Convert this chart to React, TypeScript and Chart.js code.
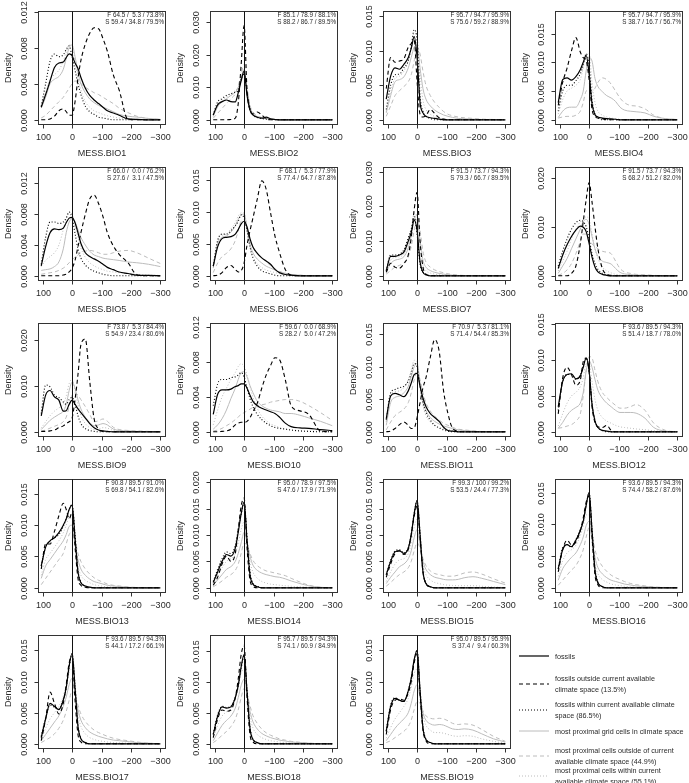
import React, { useEffect, useRef } from "react";
import { Chart, registerables } from "chart.js";

Chart.register(...registerables);

// ---------------- data ----------------
// MESS value grid (x) shared by every density curve
const X_GRID = [105, 90, 75, 60, 45, 30, 20, 10, 0, -10, -20, -30, -45, -60, -75, -90, -105, -120, -140, -160, -190, -220, -260, -300];
const X_TICK_VALUES = [100, 0, -100, -200, -300];
const X_TICK_LABELS = ["100", "0", "\u2212100", "\u2212200", "\u2212300"];

const VARIABLES = [
  "MESS.BIO1", "MESS.BIO2", "MESS.BIO3", "MESS.BIO4", "MESS.BIO5", "MESS.BIO6", "MESS.BIO7",
  "MESS.BIO8", "MESS.BIO9", "MESS.BIO10", "MESS.BIO11", "MESS.BIO12", "MESS.BIO13", "MESS.BIO14",
  "MESS.BIO15", "MESS.BIO16", "MESS.BIO17", "MESS.BIO18", "MESS.BIO19",
];

const F_LABELS = [
  "F 64.5 /  5.3 / 73.8%", "F 85.1 / 78.9 / 88.1%", "F 95.7 / 94.7 / 95.9%", "F 95.7 / 94.7 / 95.9%",
  "F 66.0 /  0.0 / 76.2%", "F 68.1 /  5.3 / 77.9%", "F 91.5 / 73.7 / 94.3%", "F 91.5 / 73.7 / 94.3%",
  "F 73.8 /  5.3 / 84.4%", "F 59.6 /  0.0 / 68.9%", "F 70.9 /  5.3 / 81.1%", "F 93.6 / 89.5 / 94.3%",
  "F 90.8 / 89.5 / 91.0%", "F 95.0 / 78.9 / 97.5%", "F 99.3 / 100 / 99.2%", "F 93.6 / 89.5 / 94.3%",
  "F 93.6 / 89.5 / 94.3%", "F 95.7 / 89.5 / 94.3%", "F 95.0 / 89.5 / 95.9%",
];

const S_LABELS = [
  "S 59.4 / 34.8 / 79.5%", "S 88.2 / 86.7 / 89.5%", "S 75.6 / 59.2 / 88.9%", "S 38.7 / 16.7 / 56.7%",
  "S 27.6 /  3.1 / 47.5%", "S 77.4 / 64.7 / 87.8%", "S 79.3 / 66.7 / 89.5%", "S 68.2 / 51.2 / 82.0%",
  "S 54.9 / 23.4 / 80.6%", "S 28.2 /  5.0 / 47.2%", "S 71.4 / 54.4 / 85.3%", "S 51.4 / 18.7 / 78.0%",
  "S 69.8 / 54.1 / 82.6%", "S 47.6 / 17.9 / 71.9%", "S 53.5 / 24.4 / 77.3%", "S 74.4 / 58.2 / 87.6%",
  "S 44.1 / 17.2 / 66.1%", "S 74.1 / 60.9 / 84.9%", "S 37.4 /  9.4 / 60.3%",
];

// y limit of each panel and tick step (density x 0.001)
const Y_MAX = [11.6, 32.2, 15.1, 18.2, 13.6, 16.3, 30.1, 21.3, 22.8, 12.0, 16.1, 14.6, 16.7, 19.8, 19.8, 16.5, 16.8, 17.0, 16.8];
const Y_STEP = [4, 10, 5, 5, 4, 5, 10, 10, 10, 4, 5, 5, 5, 5, 5, 5, 5, 5, 5];

// densities (x 0.001), one row per variable, values on X_GRID
const FOSSILS = [
  [1.4, 2.8, 4.3, 5.8, 6.3, 6.4, 6.9, 7.3, 7.1, 6.3, 5.7, 4.7, 3.5, 2.7, 2.2, 1.8, 1.4, 1.0, 0.75, 0.5, 0.1, 0.05, 0, 0],
  [1.5, 4.6, 5.6, 6.1, 5.6, 5.5, 8.3, 12.0, 15.0, 7.5, 3.0, 1.5, 0.8, 0.5, 0.8, 0.3, 0.1, 0, 0, 0, 0, 0, 0, 0],
  [3.0, 6.3, 7.5, 7.3, 8.0, 9.0, 10.3, 12.0, 9.0, 2.5, 1.0, 0.5, 0.3, 0.2, 0.1, 0, 0, 0, 0, 0, 0, 0, 0, 0],
  [3.0, 7.0, 7.3, 6.9, 7.5, 8.7, 10.0, 11.2, 8.0, 2.8, 0.9, 0.5, 0.3, 0.2, 0.15, 0.1, 0, 0, 0, 0, 0, 0, 0, 0],
  [1.3, 3.8, 5.6, 6.1, 6.0, 6.2, 6.9, 7.5, 7.6, 6.9, 5.6, 4.2, 3.0, 2.5, 2.2, 1.9, 1.5, 1.1, 0.8, 0.5, 0.3, 0.1, 0.05, 0],
  [1.5, 4.5, 5.8, 6.0, 6.1, 6.5, 7.2, 8.1, 8.5, 7.6, 5.8, 4.5, 3.5, 2.8, 2.3, 1.8, 1.0, 0.5, 0.2, 0.1, 0, 0, 0, 0],
  [1.5, 5.6, 5.6, 6.0, 6.8, 10.0, 12.5, 16.0, 13.0, 4.0, 1.0, 0.3, 0, 0, 0, 0, 0, 0, 0, 0, 0, 0, 0, 0],
  [1.5, 4.2, 6.3, 8.0, 9.3, 10.1, 9.9, 9.0, 6.6, 3.8, 1.8, 0.8, 0.3, 0.1, 0, 0, 0, 0, 0, 0, 0, 0, 0, 0],
  [3.5, 8.0, 9.0, 7.6, 6.9, 4.5, 4.6, 6.0, 6.9, 6.0, 5.0, 4.2, 3.0, 1.8, 0.9, 0.4, 0.2, 0.1, 0, 0, 0, 0, 0, 0],
  [2.0, 4.3, 4.8, 4.8, 4.9, 5.2, 5.3, 5.5, 5.5, 5.0, 4.2, 3.5, 3.0, 2.7, 2.5, 2.3, 2.1, 1.7, 1.0, 0.6, 0.45, 0.4, 0.25, 0.15],
  [2.0, 5.5, 5.9, 5.7, 5.4, 6.3, 7.5, 8.8, 9.0, 7.0, 5.2, 3.9, 2.8, 2.2, 1.6, 0.7, 0.2, 0.1, 0, 0, 0, 0, 0, 0],
  [3.5, 7.0, 8.0, 8.1, 7.4, 7.8, 9.0, 10.3, 8.5, 3.8, 1.5, 0.6, 0.2, 0.1, 0, 0, 0, 0, 0, 0, 0, 0, 0, 0],
  [3.5, 6.5, 7.5, 8.0, 8.8, 10.0, 11.0, 12.5, 13.2, 8.0, 2.5, 0.8, 0.3, 0.1, 0, 0, 0, 0, 0, 0, 0, 0, 0, 0],
  [1.0, 3.0, 5.0, 6.3, 6.0, 7.5, 10.5, 14.0, 16.2, 9.0, 2.5, 0.7, 0.2, 0, 0, 0, 0, 0, 0, 0, 0, 0, 0, 0],
  [2.5, 5.0, 6.8, 7.0, 6.5, 7.5, 10.0, 14.0, 16.5, 10.0, 3.0, 0.8, 0.2, 0, 0, 0, 0, 0, 0, 0, 0, 0, 0, 0],
  [3.0, 6.0, 6.8, 6.5, 7.5, 9.0, 10.5, 13.0, 15.0, 9.0, 2.8, 0.8, 0.2, 0, 0, 0, 0, 0, 0, 0, 0, 0, 0, 0],
  [1.0, 4.0, 6.5, 6.0, 5.5, 7.0, 9.0, 12.5, 14.5, 9.0, 2.8, 0.8, 0.2, 0, 0, 0, 0, 0, 0, 0, 0, 0, 0, 0],
  [1.5, 4.5, 6.0, 5.8, 6.0, 7.5, 9.5, 12.5, 14.5, 8.5, 2.5, 0.7, 0.2, 0, 0, 0, 0, 0, 0, 0, 0, 0, 0, 0],
  [2.0, 6.0, 7.3, 7.0, 6.8, 8.5, 10.5, 13.5, 15.0, 8.5, 2.5, 0.7, 0.2, 0, 0, 0, 0, 0, 0, 0, 0, 0, 0, 0],
];

const FOSSILS_OUTSIDE = [
  [0, 0, 0.1, 0.4, 1.0, 1.2, 0.9, 0.5, 0.5, 2.0, 4.6, 6.6, 8.4, 9.6, 10.2, 10.1, 9.0, 7.6, 5.0, 3.3, 0.05, 0, 0, 0],
  [0, 0, 0, 0, 0.1, 0.5, 5.0, 17.0, 29.0, 9.0, 3.0, 1.8, 2.4, 1.5, 0.3, 0, 0, 0, 0, 0, 0, 0, 0, 0],
  [4.5, 9.0, 8.3, 8.5, 8.8, 10.5, 11.0, 11.5, 5.5, 0.8, 0.4, 0.6, 1.5, 0.9, 0.3, 0.1, 0, 0, 0, 0, 0, 0, 0, 0],
  [2.5, 6.5, 9.0, 12.0, 14.3, 11.8, 10.8, 10.3, 7.0, 1.8, 0.6, 0.3, 0.2, 0, 0, 0, 0, 0, 0, 0, 0, 0, 0, 0],
  [0, 0, 0, 0, 0, 0.1, 0.2, 0.5, 1.0, 2.0, 3.8, 5.6, 8.0, 10.0, 10.5, 9.4, 7.7, 5.6, 3.9, 2.8, 1.7, 0.15, 0, 0],
  [0, 0.1, 0.5, 1.3, 1.6, 1.0, 0.6, 0.8, 2.0, 4.8, 7.0, 9.0, 12.0, 14.8, 13.5, 9.8, 6.2, 3.7, 1.0, 0.1, 0, 0, 0, 0],
  [1.0, 3.6, 2.5, 2.2, 3.5, 6.0, 11.0, 19.0, 24.0, 10.0, 2.5, 0.5, 0.1, 0, 0, 0, 0, 0, 0, 0, 0, 0, 0, 0],
  [0, 0, 0, 0.5, 2.0, 6.5, 11.0, 15.5, 19.0, 15.0, 10.0, 5.5, 1.5, 0.3, 0.1, 0, 0, 0, 0, 0, 0, 0, 0, 0],
  [0.1, 0.1, 0.2, 0.4, 0.9, 1.3, 1.8, 2.2, 3.0, 7.0, 12.5, 19.0, 20.2, 11.0, 2.8, 0.6, 0.1, 0, 0, 0, 0, 0, 0, 0],
  [0, 0, 0.05, 0.1, 0.3, 0.8, 1.0, 1.1, 1.1, 1.2, 1.6, 2.3, 3.3, 5.0, 6.5, 7.6, 8.5, 8.3, 6.0, 3.0, 2.4, 2.0, 0.1, 0],
  [0, 0.1, 0.5, 1.1, 1.5, 1.0, 0.5, 0.6, 2.2, 4.5, 6.8, 8.3, 11.5, 14.2, 12.4, 6.3, 2.8, 0.6, 0.1, 0, 0, 0, 0, 0],
  [2.5, 7.5, 9.0, 8.0, 6.5, 7.2, 9.8, 10.3, 8.5, 3.5, 1.3, 0.7, 0.6, 0.9, 0.2, 0, 0, 0, 0, 0, 0, 0, 0, 0],
  [3.0, 7.0, 7.0, 9.0, 11.5, 13.5, 12.5, 11.0, 12.0, 6.5, 1.5, 0.4, 0.1, 0, 0, 0, 0, 0, 0, 0, 0, 0, 0, 0],
  [0.5, 2.0, 4.5, 6.0, 5.0, 6.5, 11.0, 15.5, 17.0, 7.5, 1.5, 0.3, 0, 0, 0, 0, 0, 0, 0, 0, 0, 0, 0, 0],
  [2.0, 4.5, 6.5, 7.0, 6.3, 7.3, 10.0, 13.5, 15.5, 9.5, 3.0, 0.8, 0.2, 0, 0, 0, 0, 0, 0, 0, 0, 0, 0, 0],
  [2.5, 6.0, 7.5, 6.8, 7.2, 9.0, 11.0, 13.5, 14.5, 8.0, 2.0, 0.5, 0, 0, 0, 0, 0, 0, 0, 0, 0, 0, 0, 0],
  [0.5, 4.0, 8.3, 6.5, 4.8, 6.5, 9.5, 13.0, 14.0, 7.0, 1.5, 0.3, 0, 0, 0, 0, 0, 0, 0, 0, 0, 0, 0, 0],
  [1.0, 4.0, 5.5, 5.3, 5.5, 7.5, 10.5, 14.5, 16.0, 7.5, 1.5, 0.3, 0, 0, 0, 0, 0, 0, 0, 0, 0, 0, 0, 0],
  [1.5, 5.5, 7.0, 7.2, 7.0, 8.2, 10.0, 13.0, 14.5, 8.0, 2.2, 0.5, 0, 0, 0, 0, 0, 0, 0, 0, 0, 0, 0, 0],
];

const FOSSILS_WITHIN = [
  [1.5, 4.0, 6.5, 7.3, 7.0, 7.2, 7.8, 8.2, 7.0, 5.5, 4.0, 2.8, 1.5, 0.9, 0.6, 0.3, 0.2, 0.1, 0, 0, 0, 0, 0, 0],
  [1.5, 5.5, 6.5, 7.5, 8.0, 8.5, 9.0, 12.5, 14.0, 8.5, 3.5, 1.5, 0.7, 0.4, 0.2, 0.1, 0, 0, 0, 0, 0, 0, 0, 0],
  [1.5, 5.0, 6.5, 6.6, 7.5, 8.5, 10.5, 13.0, 11.5, 3.5, 1.2, 0.5, 0.2, 0, 0, 0, 0, 0, 0, 0, 0, 0, 0, 0],
  [1.5, 5.0, 6.0, 6.0, 6.8, 8.0, 9.5, 11.5, 9.5, 3.5, 1.0, 0.4, 0, 0, 0, 0, 0, 0, 0, 0, 0, 0, 0, 0],
  [1.5, 5.0, 7.0, 7.0, 6.8, 7.0, 7.5, 8.3, 7.5, 5.5, 3.5, 2.3, 1.4, 0.9, 0.6, 0.4, 0.2, 0.1, 0, 0, 0, 0, 0, 0],
  [1.5, 5.5, 6.5, 6.5, 7.0, 7.8, 8.5, 9.5, 9.0, 7.0, 4.5, 2.8, 1.5, 0.8, 0.5, 0.3, 0.1, 0, 0, 0, 0, 0, 0, 0],
  [1.5, 6.0, 6.0, 6.2, 7.5, 11.0, 13.5, 17.0, 12.0, 3.5, 1.0, 0.3, 0, 0, 0, 0, 0, 0, 0, 0, 0, 0, 0, 0],
  [2.0, 5.0, 7.5, 9.5, 10.8, 11.3, 11.0, 10.0, 7.5, 4.5, 2.5, 1.3, 0.5, 0.2, 0, 0, 0, 0, 0, 0, 0, 0, 0, 0],
  [4.0, 10.2, 9.8, 8.0, 7.5, 6.5, 6.0, 7.0, 7.5, 6.0, 3.5, 1.8, 0.7, 0.3, 0.1, 0, 0, 0, 0, 0, 0, 0, 0, 0],
  [3.0, 5.5, 6.0, 6.0, 6.2, 6.3, 6.5, 6.8, 6.3, 5.0, 3.8, 2.9, 2.0, 1.4, 1.0, 0.7, 0.5, 0.4, 0.3, 0.2, 0.1, 0.05, 0, 0],
  [1.8, 6.0, 6.5, 6.8, 7.0, 7.8, 9.0, 10.5, 10.0, 7.0, 4.5, 3.0, 1.8, 1.0, 0.6, 0.3, 0.1, 0, 0, 0, 0, 0, 0, 0],
  [3.0, 7.0, 8.0, 8.0, 7.3, 7.9, 9.2, 10.3, 8.5, 4.0, 1.6, 0.6, 0.2, 0, 0, 0, 0, 0, 0, 0, 0, 0, 0, 0],
  [3.5, 6.5, 7.5, 8.0, 8.5, 9.8, 11.0, 12.5, 13.3, 8.5, 2.8, 0.9, 0.3, 0, 0, 0, 0, 0, 0, 0, 0, 0, 0, 0],
  [1.2, 3.5, 5.5, 6.8, 6.5, 8.0, 11.0, 14.0, 16.0, 9.5, 3.0, 0.9, 0.3, 0, 0, 0, 0, 0, 0, 0, 0, 0, 0, 0],
  [2.5, 5.2, 7.0, 7.2, 6.6, 7.6, 10.2, 14.0, 16.5, 10.5, 3.2, 0.9, 0.2, 0, 0, 0, 0, 0, 0, 0, 0, 0, 0, 0],
  [3.0, 6.3, 6.8, 6.4, 7.6, 9.2, 10.5, 13.0, 15.0, 9.3, 3.0, 0.9, 0.2, 0, 0, 0, 0, 0, 0, 0, 0, 0, 0, 0],
  [1.2, 4.2, 6.2, 5.9, 5.6, 7.1, 9.0, 12.3, 14.5, 9.5, 3.0, 0.9, 0.2, 0, 0, 0, 0, 0, 0, 0, 0, 0, 0, 0],
  [1.6, 4.7, 6.1, 5.9, 6.1, 7.5, 9.3, 12.3, 14.3, 8.8, 2.7, 0.8, 0.2, 0, 0, 0, 0, 0, 0, 0, 0, 0, 0, 0],
  [2.1, 6.2, 7.4, 7.0, 6.8, 8.6, 10.6, 13.5, 15.0, 8.8, 2.7, 0.8, 0.2, 0, 0, 0, 0, 0, 0, 0, 0, 0, 0, 0],
];

const CELLS = [
  [1.3, 2.5, 4.0, 4.5, 4.8, 5.6, 6.8, 8.0, 8.3, 7.0, 5.3, 4.0, 3.0, 2.3, 1.9, 1.6, 1.4, 1.2, 0.9, 0.6, 0.4, 0.3, 0.15, 0.05],
  [1.0, 4.0, 5.5, 6.5, 7.5, 8.5, 10.0, 13.0, 15.5, 9.0, 4.0, 2.0, 1.0, 0.6, 0.4, 0.2, 0.1, 0, 0, 0, 0, 0, 0, 0],
  [1.0, 3.5, 5.5, 5.8, 6.2, 7.5, 9.0, 10.5, 10.8, 7.5, 4.5, 3.0, 2.0, 1.4, 1.0, 0.7, 0.5, 0.35, 0.2, 0.15, 0.1, 0.05, 0, 0],
  [0.4, 1.5, 2.1, 2.2, 2.2, 3.5, 5.0, 8.5, 10.8, 10.2, 7.2, 5.8, 4.9, 4.2, 3.8, 3.2, 2.2, 1.7, 1.5, 1.4, 1.2, 0.6, 0.2, 0.05],
  [0.7, 0.8, 0.9, 1.2, 1.8, 3.5, 5.6, 7.0, 7.4, 7.0, 6.0, 5.0, 4.0, 3.2, 2.7, 2.5, 2.3, 2.2, 2.1, 2.0, 1.8, 1.7, 1.5, 1.2],
  [1.2, 5.0, 6.0, 6.2, 6.8, 7.8, 8.8, 9.5, 9.6, 7.5, 5.0, 3.6, 2.6, 2.0, 1.5, 1.2, 0.9, 0.6, 0.4, 0.2, 0.1, 0, 0, 0],
  [1.0, 3.5, 4.5, 4.8, 5.5, 8.0, 11.5, 16.0, 17.5, 10.0, 4.5, 2.5, 1.5, 1.0, 0.7, 0.5, 0.3, 0.2, 0.1, 0, 0, 0, 0, 0],
  [0.5, 2.0, 3.5, 5.5, 7.5, 9.5, 11.0, 11.5, 10.5, 8.0, 5.5, 4.0, 3.0, 2.7, 2.4, 1.5, 0.7, 0.4, 0.25, 0.15, 0.1, 0.05, 0, 0],
  [0.5, 1.5, 2.5, 3.2, 3.8, 4.5, 6.0, 9.0, 10.8, 9.5, 7.0, 5.0, 3.2, 2.0, 1.3, 1.5, 1.8, 1.5, 0.6, 0.3, 0.2, 0.1, 0.05, 0],
  [0.3, 0.8, 1.5, 2.5, 3.8, 5.0, 6.0, 6.8, 6.9, 6.3, 5.3, 4.5, 3.5, 3.0, 2.7, 2.5, 2.4, 2.3, 2.1, 2.1, 1.9, 1.6, 1.2, 0.7],
  [1.0, 4.5, 5.3, 5.5, 6.0, 7.0, 8.5, 10.0, 10.5, 7.5, 4.8, 3.3, 2.2, 1.6, 1.2, 0.9, 0.7, 0.5, 0.3, 0.2, 0.1, 0, 0, 0],
  [0.5, 1.3, 2.3, 3.0, 3.4, 4.0, 5.5, 8.5, 9.9, 9.0, 7.3, 5.8, 4.7, 4.0, 3.5, 3.0, 2.7, 2.7, 2.7, 2.6, 1.9, 0.6, 0.1, 0],
  [1.5, 3.5, 4.5, 5.5, 6.5, 7.5, 8.5, 9.8, 10.0, 7.0, 4.5, 3.0, 2.0, 1.4, 1.0, 0.8, 0.6, 0.4, 0.3, 0.2, 0.1, 0, 0, 0],
  [0.5, 1.5, 2.5, 3.5, 4.0, 5.0, 6.5, 8.5, 10.5, 8.5, 6.0, 4.3, 3.3, 2.8, 2.5, 2.3, 2.1, 2.0, 1.7, 1.3, 0.8, 0.4, 0.1, 0],
  [0.8, 2.0, 3.0, 4.0, 4.5, 5.5, 7.0, 9.5, 11.0, 8.0, 5.0, 3.5, 2.5, 2.0, 1.8, 1.6, 1.5, 1.5, 1.6, 1.9, 2.1, 1.8, 1.2, 0.6],
  [1.2, 3.0, 4.0, 4.8, 5.5, 6.8, 8.0, 9.8, 10.5, 7.5, 4.8, 3.2, 2.2, 1.6, 1.2, 1.0, 0.8, 0.6, 0.45, 0.3, 0.2, 0.1, 0, 0],
  [0.5, 1.5, 2.5, 3.5, 4.5, 6.0, 7.5, 9.5, 10.5, 8.0, 5.5, 3.8, 2.6, 1.9, 1.5, 1.2, 1.0, 0.8, 0.6, 0.5, 0.35, 0.2, 0.1, 0],
  [0.5, 1.8, 3.0, 3.8, 4.5, 5.8, 7.5, 9.5, 10.5, 8.0, 5.3, 3.6, 2.4, 1.7, 1.3, 1.0, 0.8, 0.6, 0.45, 0.3, 0.2, 0.1, 0, 0],
  [0.5, 1.5, 2.5, 3.3, 4.0, 5.0, 6.5, 8.5, 9.5, 7.5, 5.0, 3.8, 3.2, 3.0, 3.1, 3.0, 2.7, 2.4, 2.3, 2.4, 2.2, 1.6, 0.8, 0.3],
];

const CELLS_OUTSIDE = [
  [0.2, 0.5, 1.0, 1.5, 2.0, 2.5, 3.0, 3.5, 4.0, 4.3, 4.2, 4.0, 3.6, 3.3, 3.0, 2.8, 2.5, 2.2, 1.8, 1.3, 0.8, 0.4, 0.15, 0.05],
  [0.5, 2.0, 3.5, 5.0, 6.5, 8.0, 10.5, 14.0, 17.0, 10.0, 4.5, 2.5, 1.2, 0.7, 0.4, 0.2, 0.1, 0, 0, 0, 0, 0, 0, 0],
  [0.5, 2.0, 3.5, 4.2, 4.8, 5.5, 6.5, 8.5, 10.5, 9.5, 7.0, 5.0, 3.5, 2.5, 1.8, 1.2, 0.8, 0.6, 0.4, 0.3, 0.2, 0.1, 0.05, 0],
  [0.3, 0.5, 0.6, 0.6, 0.8, 1.5, 3.0, 5.0, 5.2, 4.8, 5.5, 6.5, 7.3, 7.0, 6.2, 5.0, 3.8, 3.0, 2.5, 2.4, 1.9, 0.8, 0.2, 0.05],
  [0.2, 0.3, 0.4, 0.5, 0.7, 1.0, 1.3, 1.7, 2.1, 2.4, 2.7, 3.0, 3.2, 3.3, 3.2, 3.0, 2.8, 2.8, 3.0, 3.2, 3.3, 3.0, 2.3, 1.6],
  [0.5, 2.0, 3.0, 3.5, 4.2, 5.5, 7.0, 8.5, 8.5, 7.0, 5.5, 4.5, 3.5, 2.8, 2.2, 1.6, 1.1, 0.7, 0.4, 0.2, 0.1, 0, 0, 0],
  [0.5, 1.5, 2.5, 3.0, 3.8, 5.5, 8.5, 13.0, 17.0, 13.0, 7.0, 4.0, 2.5, 1.7, 1.2, 0.9, 0.6, 0.4, 0.2, 0.1, 0, 0, 0, 0],
  [0.1, 0.5, 1.2, 2.5, 4.5, 7.0, 8.5, 8.5, 7.5, 6.5, 6.0, 5.5, 5.0, 4.8, 4.5, 3.0, 1.5, 0.8, 0.5, 0.3, 0.2, 0.1, 0, 0],
  [0.1, 0.4, 0.8, 1.2, 1.6, 2.2, 3.2, 5.5, 8.0, 8.5, 8.0, 7.0, 5.5, 3.8, 2.2, 2.4, 2.8, 2.3, 1.0, 0.5, 0.3, 0.2, 0.1, 0],
  [0.1, 0.2, 0.4, 0.7, 1.0, 1.4, 1.7, 2.0, 2.2, 2.4, 2.6, 2.8, 3.0, 3.1, 3.2, 3.4, 3.5, 3.6, 3.7, 3.7, 3.5, 3.0, 2.2, 1.3],
  [0.3, 1.5, 2.5, 3.0, 3.5, 4.5, 6.0, 8.0, 9.5, 8.0, 6.0, 4.5, 3.2, 2.4, 1.8, 1.3, 1.0, 0.7, 0.4, 0.3, 0.15, 0.05, 0, 0],
  [0.5, 0.6, 0.8, 1.0, 1.5, 2.5, 5.0, 8.5, 10.5, 10.3, 8.6, 7.0, 5.5, 4.8, 4.2, 3.7, 3.3, 3.3, 3.5, 3.8, 3.0, 1.2, 0.2, 0],
  [0.5, 1.5, 2.5, 3.5, 4.5, 5.5, 7.0, 8.5, 9.0, 7.5, 5.5, 4.2, 3.0, 2.2, 1.6, 1.2, 0.9, 0.6, 0.4, 0.3, 0.15, 0.05, 0, 0],
  [0.2, 0.7, 1.3, 2.0, 2.5, 3.3, 4.5, 6.5, 8.5, 8.0, 6.5, 5.2, 4.2, 3.6, 3.2, 3.0, 2.8, 2.6, 2.3, 1.8, 1.1, 0.5, 0.1, 0],
  [0.3, 1.0, 1.8, 2.5, 3.0, 3.8, 5.0, 7.0, 8.5, 7.5, 5.5, 4.2, 3.2, 2.7, 2.5, 2.3, 2.2, 2.2, 2.4, 2.8, 3.0, 2.6, 1.7, 0.9],
  [0.4, 1.2, 2.0, 2.8, 3.5, 4.8, 6.0, 8.0, 9.5, 8.3, 6.0, 4.6, 3.4, 2.6, 2.0, 1.6, 1.3, 1.0, 0.7, 0.5, 0.3, 0.15, 0.05, 0],
  [0.2, 0.6, 1.0, 1.6, 2.5, 3.8, 5.2, 7.0, 8.5, 7.8, 6.2, 4.8, 3.6, 2.8, 2.2, 1.8, 1.5, 1.2, 0.9, 0.7, 0.5, 0.3, 0.1, 0],
  [0.2, 0.7, 1.4, 2.0, 2.8, 4.0, 5.5, 7.5, 9.0, 8.0, 6.2, 4.6, 3.3, 2.4, 1.8, 1.4, 1.1, 0.8, 0.6, 0.4, 0.25, 0.1, 0.05, 0],
  [0.2, 0.5, 1.0, 1.5, 2.0, 2.8, 3.8, 5.5, 6.8, 6.5, 5.3, 4.5, 4.1, 4.0, 4.1, 4.0, 3.7, 3.3, 3.1, 3.2, 3.0, 2.3, 1.2, 0.4],
];

const CELLS_WITHIN = [
  [1.5, 3.0, 4.5, 5.0, 5.5, 6.5, 7.5, 8.3, 8.2, 6.5, 4.6, 3.3, 2.0, 1.4, 1.0, 0.8, 0.6, 0.45, 0.3, 0.2, 0.1, 0.05, 0, 0],
  [1.2, 4.5, 6.0, 7.0, 8.0, 9.0, 10.0, 12.5, 14.5, 8.5, 3.8, 1.8, 0.9, 0.5, 0.3, 0.1, 0, 0, 0, 0, 0, 0, 0, 0],
  [1.2, 4.0, 6.0, 6.3, 7.0, 8.5, 10.5, 12.5, 12.0, 6.5, 2.8, 1.5, 0.8, 0.5, 0.3, 0.1, 0, 0, 0, 0, 0, 0, 0, 0],
  [1.0, 3.5, 5.0, 5.5, 6.0, 7.0, 9.0, 11.5, 11.5, 6.5, 3.0, 1.5, 0.8, 0.5, 0.3, 0.2, 0.1, 0, 0, 0, 0, 0, 0, 0],
  [1.2, 2.0, 2.5, 3.0, 4.0, 6.0, 7.5, 8.3, 8.0, 6.5, 5.0, 3.6, 2.4, 1.7, 1.3, 1.0, 0.8, 0.6, 0.5, 0.4, 0.3, 0.2, 0.1, 0.05],
  [1.5, 5.5, 6.3, 6.5, 7.3, 8.3, 9.3, 9.8, 9.8, 7.5, 4.6, 3.0, 1.9, 1.3, 0.9, 0.7, 0.5, 0.35, 0.2, 0.1, 0, 0, 0, 0],
  [1.2, 4.5, 5.3, 5.5, 6.2, 9.0, 13.0, 18.0, 17.0, 8.0, 3.0, 1.5, 0.8, 0.5, 0.3, 0.2, 0.1, 0, 0, 0, 0, 0, 0, 0],
  [1.0, 3.0, 5.0, 7.5, 9.5, 11.0, 11.5, 12.0, 11.5, 8.5, 5.5, 3.5, 1.8, 1.0, 0.6, 0.3, 0.15, 0.1, 0, 0, 0, 0, 0, 0],
  [0.8, 2.2, 3.5, 4.5, 5.2, 6.0, 7.8, 10.5, 11.5, 9.0, 6.0, 3.5, 1.8, 0.9, 0.5, 0.6, 0.9, 0.8, 0.3, 0.1, 0, 0, 0, 0],
  [0.8, 2.5, 4.0, 5.0, 6.0, 6.8, 7.5, 7.8, 7.5, 6.5, 5.2, 4.0, 2.7, 1.8, 1.3, 0.9, 0.7, 0.5, 0.35, 0.25, 0.15, 0.1, 0.05, 0],
  [1.5, 5.5, 6.2, 6.3, 6.8, 8.0, 9.5, 11.0, 10.8, 7.0, 4.0, 2.5, 1.5, 1.0, 0.7, 0.5, 0.35, 0.25, 0.15, 0.1, 0, 0, 0, 0],
  [0.8, 2.5, 4.0, 5.0, 5.5, 6.3, 7.5, 9.5, 9.5, 7.0, 4.5, 3.0, 2.0, 1.5, 1.2, 0.9, 0.7, 0.6, 0.5, 0.4, 0.3, 0.15, 0.05, 0],
  [2.0, 4.5, 5.5, 6.5, 7.5, 8.8, 10.0, 11.3, 11.0, 6.5, 3.5, 2.0, 1.2, 0.8, 0.5, 0.35, 0.25, 0.15, 0.1, 0, 0, 0, 0, 0],
  [0.8, 2.5, 3.8, 5.0, 5.5, 6.5, 8.5, 11.0, 12.5, 9.0, 5.0, 3.0, 1.8, 1.2, 0.9, 0.7, 0.6, 0.5, 0.4, 0.3, 0.2, 0.1, 0, 0],
  [1.2, 3.0, 4.5, 5.3, 5.5, 6.5, 8.5, 11.5, 13.0, 8.5, 4.3, 2.5, 1.5, 1.0, 0.8, 0.6, 0.5, 0.45, 0.4, 0.4, 0.4, 0.3, 0.15, 0.05],
  [1.8, 4.2, 5.5, 6.0, 6.7, 8.2, 9.7, 11.5, 11.5, 7.0, 3.8, 2.2, 1.3, 0.9, 0.6, 0.45, 0.35, 0.25, 0.15, 0.1, 0, 0, 0, 0],
  [0.8, 2.5, 4.0, 5.0, 6.0, 7.7, 9.5, 11.5, 12.0, 8.0, 4.6, 2.8, 1.6, 1.0, 0.7, 0.5, 0.4, 0.3, 0.2, 0.15, 0.1, 0, 0, 0],
  [0.9, 3.0, 4.5, 5.2, 5.8, 7.3, 9.3, 11.5, 12.0, 8.2, 4.5, 2.6, 1.5, 1.0, 0.7, 0.5, 0.4, 0.3, 0.2, 0.1, 0, 0, 0, 0],
  [0.9, 2.6, 4.0, 5.0, 6.0, 7.3, 9.0, 11.3, 12.0, 8.5, 4.7, 3.0, 2.2, 1.8, 1.8, 1.7, 1.5, 1.3, 1.2, 1.3, 1.2, 0.8, 0.4, 0.1],
];

const LEGEND_LABELS = [
  "fossils",
  "fossils outside current available\nclimate space (13.5%)",
  "fossils within current available climate\nspace (86.5%)",
  "most proximal grid cells in climate space",
  "most proximal cells outside of current\navailable climate space (44.9%)",
  "most proximal cells within current\navailable climate space (55.1%)",
];

// ---------------- layout & style ----------------
const FONT = '"Liberation Sans", Arial, Helvetica, sans-serif';
const TEXT_COLOR = "#2a2a2a";
const AXIS_COLOR = "#333333";
const CANVAS_W = 172;
const CANVAS_H = 160;
const COL_LEFT = [0, 172, 345, 517];
const ROW_TOP = [0, 156, 312, 468, 624];
const PAD = { left: 38, right: 7, top: 11, bottom: 36 };
const LEGEND_CENTER_Y = [656, 684, 710, 731, 756, 776];
const LEGEND_LINE_H = 11;

const SERIES_STYLE = [
  { color: "#000000", dash: [] as number[], width: 1.2 },
  { color: "#000000", dash: [4, 3], width: 1.1 },
  { color: "#000000", dash: [1, 2], width: 1.1 },
  { color: "#bcbcbc", dash: [] as number[], width: 1 },
  { color: "#bcbcbc", dash: [4, 3], width: 1 },
  { color: "#bcbcbc", dash: [1, 2], width: 1 },
];

const SERIES_DATA = [FOSSILS, FOSSILS_OUTSIDE, FOSSILS_WITHIN, CELLS, CELLS_OUTSIDE, CELLS_WITHIN];

function makeAxesPlugin(idx: number) {
  return {
    id: "rStyleAxes",
    afterDraw(chart: any) {
      const { ctx, chartArea: a } = chart;
      const xs = chart.scales.x;
      const ys = chart.scales.y;
      const L = Math.round(a.left) + 0.5;
      const R = Math.round(a.right) + 0.5;
      const T = Math.round(a.top) + 0.5;
      const B = Math.round(a.bottom) + 0.5;
      ctx.save();
      ctx.setLineDash([]);
      ctx.lineWidth = 1;
      ctx.strokeStyle = AXIS_COLOR;
      ctx.strokeRect(L, T, R - L, B - T);

      // vertical reference line at MESS = 0
      const zx = Math.round(xs.getPixelForValue(0)) + 0.5;
      ctx.strokeStyle = "#111111";
      ctx.beginPath();
      ctx.moveTo(zx, T);
      ctx.lineTo(zx, B);
      ctx.stroke();

      ctx.strokeStyle = AXIS_COLOR;
      ctx.fillStyle = TEXT_COLOR;
      ctx.font = `9px ${FONT}`;
      ctx.textAlign = "center";
      ctx.textBaseline = "middle";

      // x axis ticks
      X_TICK_VALUES.forEach((v, k) => {
        const px = Math.round(xs.getPixelForValue(v)) + 0.5;
        ctx.beginPath();
        ctx.moveTo(px, B);
        ctx.lineTo(px, B + 4);
        ctx.stroke();
        ctx.fillText(X_TICK_LABELS[k], px, B + 13);
      });

      // y axis ticks (rotated labels, R style)
      const step = Y_STEP[idx];
      for (let k = 0; k * step <= ys.max + 1e-9; k++) {
        const v = k * step;
        const py = Math.round(ys.getPixelForValue(v)) + 0.5;
        ctx.beginPath();
        ctx.moveTo(L - 4, py);
        ctx.lineTo(L, py);
        ctx.stroke();
        ctx.save();
        ctx.translate(L - 13.5, py);
        ctx.rotate(-Math.PI / 2);
        ctx.fillText((v / 1000).toFixed(3), 0, 0);
        ctx.restore();
      }

      // axis titles
      ctx.fillText(VARIABLES[idx], (L + R) / 2, B + 29);
      ctx.save();
      ctx.translate(L - 30, (T + B) / 2);
      ctx.rotate(-Math.PI / 2);
      ctx.fillText("Density", 0, 0);
      ctx.restore();

      // annotation
      ctx.font = `6.3px ${FONT}`;
      ctx.textAlign = "right";
      ctx.fillText(F_LABELS[idx], R - 1.5, T + 4);
      ctx.fillText(S_LABELS[idx], R - 1.5, T + 11);
      ctx.restore();
    },
  };
}

function Panel({ idx }: { idx: number }) {
  const ref = useRef<HTMLCanvasElement>(null);
  useEffect(() => {
    if (!ref.current) return;
    const datasets = SERIES_DATA.map((series, k) => ({
      data: X_GRID.map((x, i) => ({ x, y: series[idx][i] })),
      borderColor: SERIES_STYLE[k].color,
      borderDash: SERIES_STYLE[k].dash,
      borderWidth: SERIES_STYLE[k].width,
      pointRadius: 0,
      fill: false,
      cubicInterpolationMode: "monotone" as const,
    }));
    const ymax = Y_MAX[idx];
    const chart = new Chart(ref.current, {
      type: "line",
      data: { datasets },
      options: {
        animation: false,
        responsive: false,
        events: [],
        layout: { padding: PAD },
        plugins: { legend: { display: false }, tooltip: { enabled: false } },
        scales: {
          x: { type: "linear", reverse: true, min: -316, max: 116, display: false },
          y: { type: "linear", min: -0.04 * ymax, max: 1.04 * ymax, display: false },
        },
      },
      plugins: [makeAxesPlugin(idx)],
    } as any);
    return () => chart.destroy();
  }, [idx]);
  const col = idx % 4;
  const row = Math.floor(idx / 4);
  return (
    <canvas
      ref={ref}
      width={CANVAS_W}
      height={CANVAS_H}
      style={{ position: "absolute", left: COL_LEFT[col], top: ROW_TOP[row], width: CANVAS_W, height: CANVAS_H }}
    />
  );
}

function Legend() {
  return (
    <>
      {LEGEND_LABELS.map((label, i) => {
        const lines = label.split("\n");
        const cy = LEGEND_CENTER_Y[i];
        const st = SERIES_STYLE[i];
        return (
          <React.Fragment key={i}>
            <svg
              width={32}
              height={6}
              style={{ position: "absolute", left: 518, top: cy - 3, overflow: "visible" }}
            >
              <line
                x1={1}
                x2={31}
                y1={3}
                y2={3}
                stroke={st.color}
                strokeWidth={st.width}
                strokeDasharray={st.dash.length ? st.dash.join(" ") : undefined}
              />
            </svg>
            <div
              style={{
                position: "absolute",
                left: 555,
                top: cy - (lines.length * LEGEND_LINE_H) / 2,
                font: `7.2px ${FONT}`,
                lineHeight: `${LEGEND_LINE_H}px`,
                color: TEXT_COLOR,
                whiteSpace: "nowrap",
              }}
            >
              {lines.map((l, k) => (
                <div key={k}>{l}</div>
              ))}
            </div>
          </React.Fragment>
        );
      })}
    </>
  );
}

export default function App() {
  return (
    <div
      style={{
        position: "absolute",
        left: 0,
        top: 0,
        width: 689,
        height: 783,
        overflow: "hidden",
        background: "#ffffff",
      }}
    >
      {VARIABLES.map((_, i) => (
        <Panel key={i} idx={i} />
      ))}
      <Legend />
    </div>
  );
}
